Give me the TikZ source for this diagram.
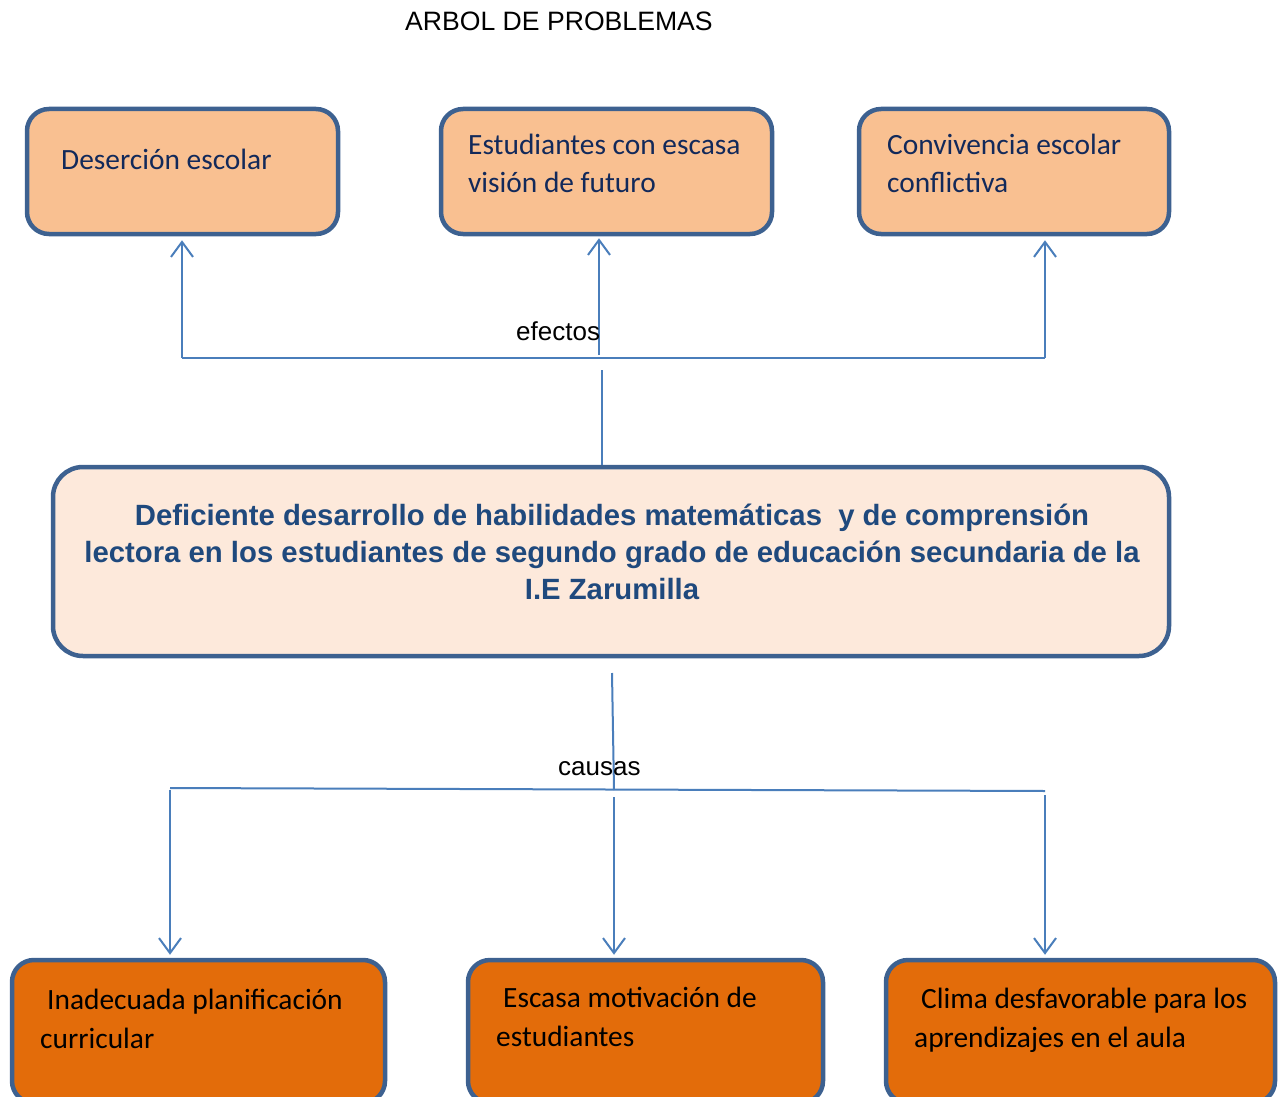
\documentclass[tikz,border=0pt]{standalone}
\usepackage{fontspec}
\setmainfont{Liberation Sans}
\newfontfamily\calib{Carlito}
\usetikzlibrary{arrows.meta,calc}
\definecolor{bordc}{HTML}{3D6190}
\definecolor{effill}{HTML}{F9C091}
\definecolor{mainfill}{HTML}{FDE9DB}
\definecolor{cafill}{HTML}{E36C0A}
\definecolor{connc}{HTML}{4A7EBB}
\definecolor{navytxt}{HTML}{12295A}
\definecolor{maintxt}{HTML}{1F497D}
\tikzset{
  boxbase/.style={draw=bordc, line width=4.5pt, rounded corners=22pt, inner sep=0pt},
  efbox/.style={boxbase, fill=effill},
  cabox/.style={boxbase, fill=cafill},
  mainbox/.style={boxbase, fill=mainfill, rounded corners=30pt},
  conn/.style={draw=connc, line width=2pt},
  arr/.style={conn, -{Straight Barb[length=15pt,width=22pt,line width=2pt]}},
  eftxt/.style={font=\calib\fontsize{29.4}{38}\selectfont, text=navytxt, anchor=base west, inner sep=0pt},
  catxt/.style={font=\calib\fontsize{29.4}{38}\selectfont, text=black, anchor=base west, inner sep=0pt},
  lbl/.style={font=\fontsize{26}{30}\selectfont, anchor=base west, inner sep=0pt},
}
\begin{document}
\begin{tikzpicture}[x=1pt,y=-1pt]
\useasboundingbox (0,0) rectangle (1288,1097);
% title
\node[lbl, font=\fontsize{26.6}{30}\selectfont] (title) at (405,31) {ARBOL DE PROBLEMAS};
% effect boxes
\node[efbox, minimum width=311pt, minimum height=125pt] (e1) at (182.5,171.5) {};
\node[efbox, minimum width=331pt, minimum height=125pt] (e2) at (606.5,171.5) {};
\node[efbox, minimum width=310pt, minimum height=125pt] (e3) at (1014,171.5) {};
\node[eftxt] (e1t) at (61,170) {Deserción escolar};
\node[eftxt] (e2t1) at (468,155) {Estudiantes con escasa};
\node[eftxt] (e2t2) at (468,193) {visión de futuro};
\node[eftxt] (e3t1) at (887,155) {Convivencia escolar};
\node[eftxt] (e3t2) at (887,193) {conflictiva};
% main box
\node[mainbox, minimum width=1116pt, minimum height=189pt] (main) at (611,561.5) {};
\node[font=\bfseries\fontsize{29.3}{37}\selectfont, text=maintxt, align=center, inner sep=0pt] (maint) at (612,552)
  {Deficiente desarrollo de habilidades matemáticas \ y de comprensión\\
   lectora en los estudiantes de segundo grado de educación secundaria de la\\
   I.E Zarumilla};
% cause boxes
\node[cabox, minimum width=373pt, minimum height=143pt] (c1) at (198.5,1031.5) {};
\node[cabox, minimum width=355pt, minimum height=143pt] (c2) at (645.5,1031.5) {};
\node[cabox, minimum width=389pt, minimum height=143pt] (c3) at (1080.5,1031.5) {};
\node[catxt] (c1t1) at (47,1009) {Inadecuada planificación};
\node[catxt] (c1t2) at (40,1048) {curricular};
\node[catxt] (c2t1) at (503,1007) {Escasa motivación de};
\node[catxt] (c2t2) at (496,1046) {estudiantes};
\node[catxt] (c3t1) at (921,1008) {Clima desfavorable para los};
\node[catxt] (c3t2) at (914,1047) {aprendizajes en el aula};
% effects connectors
\coordinate (efL) at (182,358);
\coordinate (efR) at (1045,358);
\coordinate (efM) at (599,355);
\coordinate (mTop) at (602,370);
\draw[conn] (efL) -- (efR);
\draw[arr, shorten >=4pt] (efL) -- (efL |- e1.south);
\draw[arr, shorten >=2pt] (efM) -- (efM |- e2.south);
\draw[arr, shorten >=4pt] (efR) -- (efR |- e3.south);
\draw[conn] (mTop |- main.north) -- (mTop);
\node[lbl] (eflbl) at (516,340) {efectos};
% causes connectors
\coordinate (ca0) at (612,673);
\coordinate (ca1) at (614,790);
\coordinate (caL) at (170,788);
\coordinate (caR) at (1045,791);
\coordinate (caM) at (614,797);
\coordinate (caR2) at (1045,795);
\draw[conn] (ca0) -- (ca1);
\draw[conn] (caL) -- (caR);
\draw[arr, shorten >=3pt] ($(caL)+(0,2)$) -- (caL |- c1.north);
\draw[arr, shorten >=3pt] (caM) -- (caM |- c2.north);
\draw[arr, shorten >=3pt] (caR2) -- (caR2 |- c3.north);
\node[lbl] (calbl) at (558,775) {causas};
\end{tikzpicture}
\end{document}
